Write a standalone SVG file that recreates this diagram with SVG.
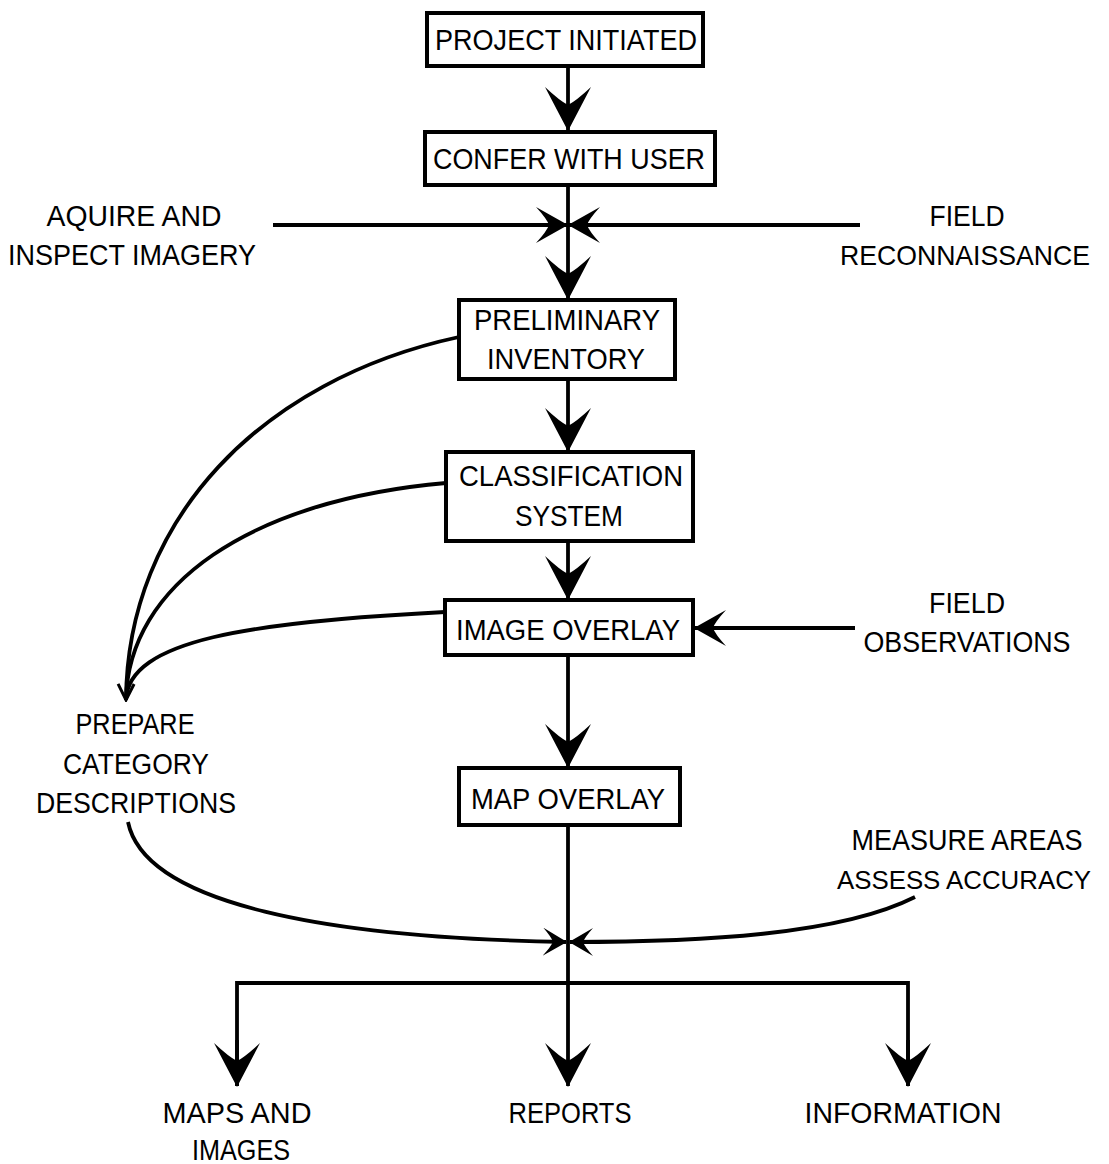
<svg xmlns="http://www.w3.org/2000/svg" width="1109" height="1164" viewBox="0 0 1109 1164">
<style>
.box{fill:#fff;stroke:#000;stroke-width:4}
.ln{fill:none;stroke:#000;stroke-width:3.8}
.t{font-family:"Liberation Sans",Arial,sans-serif;font-size:30px;fill:#000;text-anchor:middle}
.n{font-size:28px}
.m{font-size:26px}
</style>
<defs>
<marker id="big" markerUnits="userSpaceOnUse" viewBox="0 0 44 46" refX="43" refY="23" markerWidth="44" markerHeight="46" orient="auto">
<path d="M44,23 L0,0 Q14,15 18,23 Q14,31 0,46 Z" fill="#000"/>
</marker>
<marker id="mid" markerUnits="userSpaceOnUse" viewBox="0 0 32 36" refX="31" refY="18" markerWidth="32" markerHeight="36" orient="auto">
<path d="M32,18 L0,0 Q11,12 13,18 Q11,24 0,36 Z" fill="#000"/>
</marker>
<marker id="small" markerUnits="userSpaceOnUse" viewBox="0 0 24 28" refX="23" refY="14" markerWidth="24" markerHeight="28" orient="auto">
<path d="M24,14 L0,0 Q8,9 10,14 Q8,19 0,28 Z" fill="#000"/>
</marker>
<marker id="open" markerUnits="userSpaceOnUse" viewBox="0 0 20 20" refX="18" refY="10" markerWidth="20" markerHeight="20" orient="auto">
<path d="M2,2 L18,10 L2,18" fill="none" stroke="#000" stroke-width="3"/>
</marker>
</defs>
<g id="connectors">
<line class="ln" x1="568" y1="66" x2="568" y2="130" marker-end="url(#big)"/>
<line class="ln" x1="568" y1="185" x2="568" y2="299" marker-end="url(#big)"/>
<line class="ln" x1="273" y1="225" x2="567" y2="225" marker-end="url(#mid)"/>
<line class="ln" x1="860" y1="225" x2="569" y2="225" marker-end="url(#mid)"/>
<line class="ln" x1="568" y1="379" x2="568" y2="451" marker-end="url(#big)"/>
<line class="ln" x1="568" y1="541" x2="568" y2="599" marker-end="url(#big)"/>
<line class="ln" x1="855" y1="628" x2="695" y2="628" marker-end="url(#mid)"/>
<line class="ln" x1="568" y1="655" x2="568" y2="767" marker-end="url(#big)"/>
<path class="ln" d="M459,337 C260,380 127,520 126,700" marker-end="url(#open)"/>
<path class="ln" d="M446,483 C250,500 128,585 126,700"/>
<path class="ln" d="M445,612 C250,622 128,640 126,700"/>
<path class="ln" d="M128,822 C145,905 330,938 566,942" marker-end="url(#small)"/>
<path class="ln" d="M915,897 C840,935 700,942 570,942" marker-end="url(#small)"/>
<line class="ln" x1="568" y1="825" x2="568" y2="1086" marker-end="url(#big)"/>
<polyline class="ln" points="237,1086 237,983 908,983 908,1086"/>
<line class="ln" x1="237" y1="1040" x2="237" y2="1086" marker-end="url(#big)"/>
<line class="ln" x1="908" y1="1040" x2="908" y2="1086" marker-end="url(#big)"/>
</g>
<g id="project-initiated">
<rect class="box" x="427" y="13" width="276" height="53"/>
<text class="t" x="566" y="50" textLength="262" lengthAdjust="spacingAndGlyphs">PROJECT INITIATED</text>
</g>
<g id="confer-with-user">
<rect class="box" x="425" y="132" width="290" height="53"/>
<text class="t" x="569" y="169" textLength="272" lengthAdjust="spacingAndGlyphs">CONFER WITH USER</text>
</g>
<g id="aquire-imagery">
<text class="t" x="134" y="226" textLength="175" lengthAdjust="spacingAndGlyphs">AQUIRE AND</text>
<text class="t" x="132" y="265" textLength="248" lengthAdjust="spacingAndGlyphs">INSPECT IMAGERY</text>
</g>
<g id="field-reconnaissance">
<text class="t" x="967" y="226" textLength="75" lengthAdjust="spacingAndGlyphs">FIELD</text>
<text class="t n" x="965" y="265" textLength="250" lengthAdjust="spacingAndGlyphs">RECONNAISSANCE</text>
</g>
<g id="preliminary-inventory">
<rect class="box" x="459" y="300" width="216" height="79"/>
<text class="t" x="567" y="330" textLength="186" lengthAdjust="spacingAndGlyphs">PRELIMINARY</text>
<text class="t" x="566" y="369" textLength="158" lengthAdjust="spacingAndGlyphs">INVENTORY</text>
</g>
<g id="classification-system">
<rect class="box" x="446" y="452" width="247" height="89"/>
<text class="t" x="571" y="486" textLength="224" lengthAdjust="spacingAndGlyphs">CLASSIFICATION</text>
<text class="t" x="569" y="526" textLength="108" lengthAdjust="spacingAndGlyphs">SYSTEM</text>
</g>
<g id="image-overlay">
<rect class="box" x="445" y="600" width="248" height="55"/>
<text class="t" x="568" y="640" textLength="224" lengthAdjust="spacingAndGlyphs">IMAGE OVERLAY</text>
</g>
<g id="field-observations">
<text class="t" x="967" y="613" textLength="76" lengthAdjust="spacingAndGlyphs">FIELD</text>
<text class="t" x="967" y="652" textLength="207" lengthAdjust="spacingAndGlyphs">OBSERVATIONS</text>
</g>
<g id="prepare-category-descriptions">
<text class="t" x="135" y="734" textLength="119" lengthAdjust="spacingAndGlyphs">PREPARE</text>
<text class="t" x="136" y="774" textLength="146" lengthAdjust="spacingAndGlyphs">CATEGORY</text>
<text class="t" x="136" y="813" textLength="200" lengthAdjust="spacingAndGlyphs">DESCRIPTIONS</text>
</g>
<g id="map-overlay">
<rect class="box" x="459" y="768" width="221" height="57"/>
<text class="t" x="568" y="809" textLength="194" lengthAdjust="spacingAndGlyphs">MAP OVERLAY</text>
</g>
<g id="measure-areas">
<text class="t" x="967" y="850" textLength="231" lengthAdjust="spacingAndGlyphs">MEASURE AREAS</text>
<text class="t m" x="964" y="889" textLength="254" lengthAdjust="spacingAndGlyphs">ASSESS ACCURACY</text>
</g>
<g id="maps-and-images">
<text class="t" x="237" y="1123" textLength="149" lengthAdjust="spacingAndGlyphs">MAPS AND</text>
<text class="t" x="241" y="1160" textLength="98" lengthAdjust="spacingAndGlyphs">IMAGES</text>
</g>
<g id="reports">
<text class="t" x="570" y="1123" textLength="123" lengthAdjust="spacingAndGlyphs">REPORTS</text>
</g>
<g id="information">
<text class="t" x="903" y="1123" textLength="197" lengthAdjust="spacingAndGlyphs">INFORMATION</text>
</g>
</svg>
